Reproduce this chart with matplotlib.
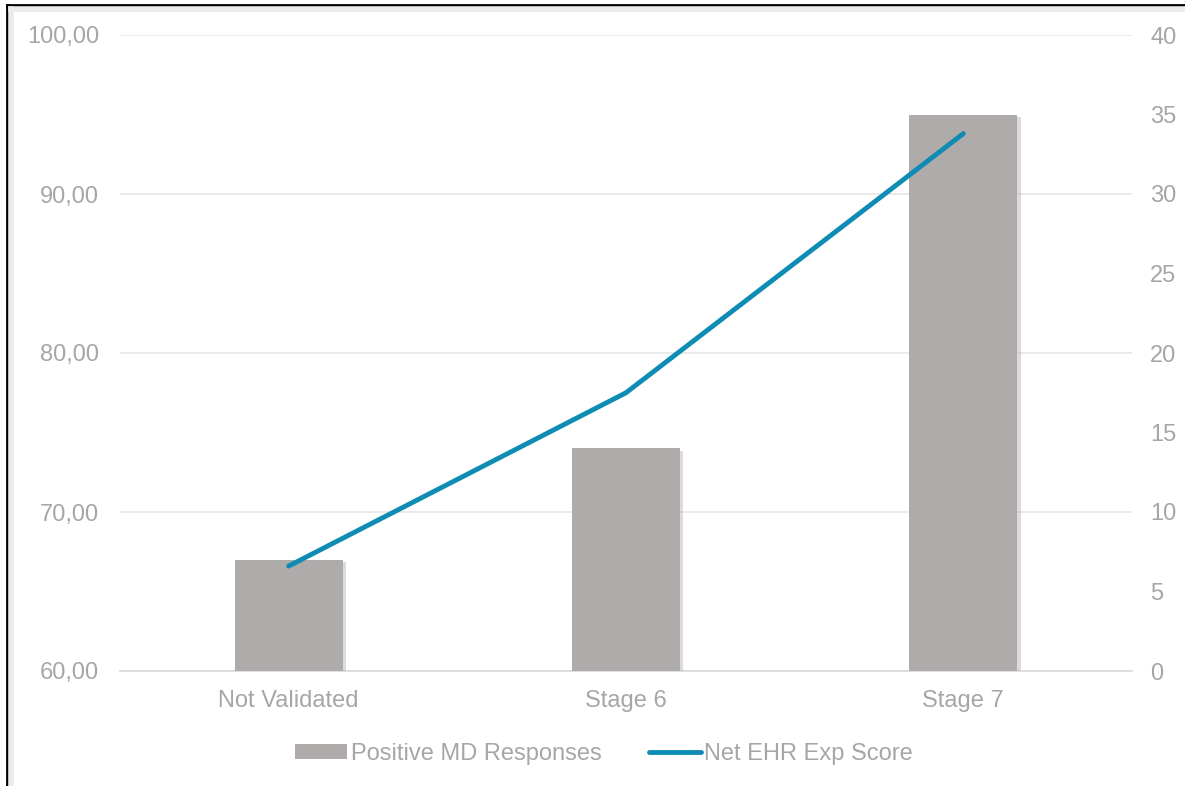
import matplotlib.pyplot as plt
import matplotlib.patheffects as pe
from matplotlib.lines import Line2D
from matplotlib.patches import Patch
from matplotlib.ticker import FuncFormatter
import numpy as np

plt.rcParams['font.family'] = ['Liberation Sans', 'DejaVu Sans']

categories = ['Not Validated', 'Stage 6', 'Stage 7']
md_responses = [67, 74, 95]
ehr_score = [6.6, 17.5, 33.8]

bar_color = '#AFABAB'
line_color = '#0E8CB3'
text_color = '#A6A6A6'
grid_color = '#E6E6E6'

fig = plt.figure(figsize=(11.85, 7.86), dpi=100)
ax = fig.add_axes([120/1185, 1-671/786, 1012/1185, 636/786])
ax2 = ax.twinx()

x = np.arange(len(categories))
bars = ax.bar(x, md_responses, width=0.32, bottom=0, color=bar_color, zorder=3)
for b in bars:
    b.set_path_effects([pe.SimplePatchShadow(offset=(2.5, -2), shadow_rgbFace='#b0b0b0', alpha=0.45),
                        pe.Normal()])

ax.set_ylim(60, 100)
ax.set_xlim(-0.5, 2.5)
ax.set_yticks([60, 70, 80, 90, 100])
ax.yaxis.set_major_formatter(FuncFormatter(lambda v, p: f'{v:.2f}'.replace('.', ',')))
ax.set_xticks(x)
ax.set_xticklabels(categories)
ax.grid(axis='y', color=grid_color, linewidth=1.2, zorder=0)
ax.set_axisbelow(True)

l, = ax2.plot(x, ehr_score, color=line_color, linewidth=3.5, solid_capstyle='round', zorder=4)
ax2.set_ylim(0, 40)
ax2.set_yticks(range(0, 41, 5))

for a in (ax, ax2):
    for s in a.spines.values():
        s.set_visible(False)
    a.tick_params(length=0, labelsize=17, colors=text_color)
ax.tick_params(axis='y', pad=15)
ax.tick_params(axis='x', pad=14)
ax2.tick_params(axis='y', pad=13)
ax.spines['bottom'].set_visible(True)
ax.spines['bottom'].set_color('#D9D9D9')
ax.spines['bottom'].set_linewidth(1.2)

ax.set_zorder(ax2.get_zorder() - 1)
ax2.patch.set_visible(False)

bar_handle = Patch(facecolor=bar_color, edgecolor='none')
line_handle = Line2D([], [], color=line_color, linewidth=3.5, solid_capstyle='round')
fig.legend(handles=[bar_handle, line_handle], labels=['Positive MD Responses', 'Net EHR Exp Score'],
           loc='center', bbox_to_anchor=(604/1185, 1-754/786), ncol=2, frameon=False,
           fontsize=17, labelcolor=text_color, handlelength=2.2, handleheight=0.6,
           handletextpad=0.15, columnspacing=2.0)

# frame border on left and top
fig.add_artist(Line2D([7/1185, 7/1185], [0, 1-5/786], color='black', linewidth=2))
fig.add_artist(Line2D([7/1185, 1], [1-5/786, 1-5/786], color='black', linewidth=2))
fig.add_artist(Line2D([11/1185, 11/1185], [0, 1-9/786], color='#EBEBEB', linewidth=4))
fig.add_artist(Line2D([11/1185, 1], [1-9/786, 1-9/786], color='#EBEBEB', linewidth=4))

fig.savefig('out.png', dpi=100)
